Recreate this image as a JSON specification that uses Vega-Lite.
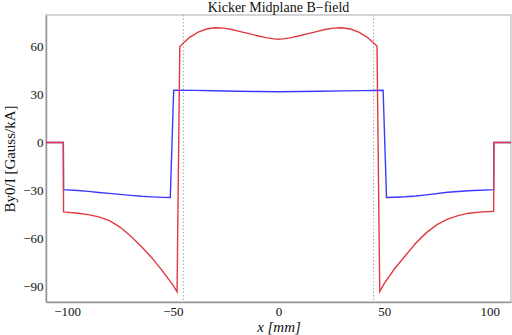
{
  "$schema": "https://vega.github.io/schema/vega-lite/v6.json",
  "width": 465,
  "height": 287,
  "autosize": {"type": "none"},
  "padding": {"left": 46, "top": 15, "right": 1, "bottom": 33},
  "background": "white",
  "title": {"text": "Kicker Midplane B−field", "font": "Liberation Serif", "fontSize": 14, "fontWeight": "normal", "color": "#111", "offset": 0, "anchor": "middle"},
  "config": {
    "view": {"stroke": "#c8c8c8", "strokeWidth": 1.5},
    "axis": {"labelFont": "Liberation Serif", "labelFontSize": 13, "labelColor": "#111", "titleFont": "Liberation Serif", "titleFontSize": 15, "titleFontWeight": "normal", "titleColor": "#111", "grid": false, "domainColor": "#999", "domainWidth": 1.5, "ticks": false, "labelPadding": 3}
  },
  "datasets": {
    "curves": [
      {"s": "red", "i": 1, "x": -110, "y": 0},
      {"s": "red", "i": 2, "x": -101.8, "y": 0},
      {"s": "red", "i": 3, "x": -101.7, "y": -43.5},
      {"s": "red", "i": 4, "x": -95, "y": -44.3},
      {"s": "red", "i": 5, "x": -90, "y": -45.2},
      {"s": "red", "i": 6, "x": -85, "y": -46.6},
      {"s": "red", "i": 7, "x": -80, "y": -49.0},
      {"s": "red", "i": 8, "x": -75, "y": -53.0},
      {"s": "red", "i": 9, "x": -70, "y": -58.6},
      {"s": "red", "i": 10, "x": -65, "y": -65.0},
      {"s": "red", "i": 11, "x": -60, "y": -72.2},
      {"s": "red", "i": 12, "x": -55, "y": -80.3},
      {"s": "red", "i": 13, "x": -50, "y": -89.2},
      {"s": "red", "i": 14, "x": -48, "y": -93.6},
      {"s": "red", "i": 15, "x": -46.7, "y": 60},
      {"s": "red", "i": 16, "x": -45, "y": 62.5},
      {"s": "red", "i": 17, "x": -42, "y": 66},
      {"s": "red", "i": 18, "x": -38, "y": 69.2},
      {"s": "red", "i": 19, "x": -34, "y": 71.2},
      {"s": "red", "i": 20, "x": -30, "y": 72},
      {"s": "red", "i": 21, "x": -26, "y": 71.8},
      {"s": "red", "i": 22, "x": -22, "y": 70.9},
      {"s": "red", "i": 23, "x": -18, "y": 69.6},
      {"s": "red", "i": 24, "x": -14, "y": 68.3},
      {"s": "red", "i": 25, "x": -10, "y": 67},
      {"s": "red", "i": 26, "x": -6, "y": 65.8},
      {"s": "red", "i": 27, "x": -2, "y": 65},
      {"s": "red", "i": 28, "x": 0, "y": 64.8},
      {"s": "red", "i": 29, "x": 2, "y": 65},
      {"s": "red", "i": 30, "x": 6, "y": 65.8},
      {"s": "red", "i": 31, "x": 10, "y": 67},
      {"s": "red", "i": 32, "x": 14, "y": 68.3},
      {"s": "red", "i": 33, "x": 18, "y": 69.6},
      {"s": "red", "i": 34, "x": 22, "y": 70.9},
      {"s": "red", "i": 35, "x": 26, "y": 71.8},
      {"s": "red", "i": 36, "x": 30, "y": 72},
      {"s": "red", "i": 37, "x": 34, "y": 71.2},
      {"s": "red", "i": 38, "x": 38, "y": 69.2},
      {"s": "red", "i": 39, "x": 42, "y": 66},
      {"s": "red", "i": 40, "x": 45, "y": 62.5},
      {"s": "red", "i": 41, "x": 46.6, "y": 60.5},
      {"s": "red", "i": 42, "x": 47.9, "y": -93.4},
      {"s": "red", "i": 43, "x": 50, "y": -88.5},
      {"s": "red", "i": 44, "x": 55, "y": -79},
      {"s": "red", "i": 45, "x": 60, "y": -71},
      {"s": "red", "i": 46, "x": 65, "y": -63},
      {"s": "red", "i": 47, "x": 70, "y": -56.5},
      {"s": "red", "i": 48, "x": 75, "y": -51.5},
      {"s": "red", "i": 49, "x": 80, "y": -48},
      {"s": "red", "i": 50, "x": 85, "y": -45.8},
      {"s": "red", "i": 51, "x": 90, "y": -44.3},
      {"s": "red", "i": 52, "x": 95, "y": -43.6},
      {"s": "red", "i": 53, "x": 101.8, "y": -43.1},
      {"s": "red", "i": 54, "x": 101.9, "y": 0},
      {"s": "red", "i": 55, "x": 110, "y": 0},
      {"s": "blue", "i": 1, "x": -110, "y": 0},
      {"s": "blue", "i": 2, "x": -101.8, "y": 0},
      {"s": "blue", "i": 3, "x": -101.7, "y": -29.5},
      {"s": "blue", "i": 4, "x": -95, "y": -30.1},
      {"s": "blue", "i": 5, "x": -90, "y": -30.6},
      {"s": "blue", "i": 6, "x": -85, "y": -31.3},
      {"s": "blue", "i": 7, "x": -80, "y": -31.9},
      {"s": "blue", "i": 8, "x": -75, "y": -32.5},
      {"s": "blue", "i": 9, "x": -70, "y": -33.1},
      {"s": "blue", "i": 10, "x": -65, "y": -33.7},
      {"s": "blue", "i": 11, "x": -60, "y": -34.1},
      {"s": "blue", "i": 12, "x": -55, "y": -34.4},
      {"s": "blue", "i": 13, "x": -51.2, "y": -34.5},
      {"s": "blue", "i": 14, "x": -49.6, "y": 32.8},
      {"s": "blue", "i": 15, "x": -40, "y": 32.7},
      {"s": "blue", "i": 16, "x": -30, "y": 32.5},
      {"s": "blue", "i": 17, "x": -20, "y": 32.2},
      {"s": "blue", "i": 18, "x": -10, "y": 32},
      {"s": "blue", "i": 19, "x": 0, "y": 31.9},
      {"s": "blue", "i": 20, "x": 10, "y": 32},
      {"s": "blue", "i": 21, "x": 20, "y": 32.2},
      {"s": "blue", "i": 22, "x": 30, "y": 32.4},
      {"s": "blue", "i": 23, "x": 40, "y": 32.6},
      {"s": "blue", "i": 24, "x": 49.5, "y": 32.8},
      {"s": "blue", "i": 25, "x": 51.1, "y": -34.5},
      {"s": "blue", "i": 26, "x": 55, "y": -34.3},
      {"s": "blue", "i": 27, "x": 60, "y": -34},
      {"s": "blue", "i": 28, "x": 65, "y": -33.5},
      {"s": "blue", "i": 29, "x": 70, "y": -32.8},
      {"s": "blue", "i": 30, "x": 80, "y": -31.2},
      {"s": "blue", "i": 31, "x": 90, "y": -30.2},
      {"s": "blue", "i": 32, "x": 101.8, "y": -29.5},
      {"s": "blue", "i": 33, "x": 101.9, "y": 0},
      {"s": "blue", "i": 34, "x": 110, "y": 0}
    ],
    "guides": [{"x": -45}, {"x": 45}]
  },
  "encoding": {
    "x": {"field": "x", "type": "quantitative", "scale": {"domain": [-110, 110], "nice": false, "zero": false}, "axis": {"values": [-100, -50, 0, 50, 100], "title": "x  [mm]", "titleFontStyle": "italic", "titlePadding": 1}},
    "y": {"field": "y", "type": "quantitative", "scale": {"domain": [-100, 80], "nice": false, "zero": false}, "axis": {"values": [-90, -60, -30, 0, 30, 60], "title": "By0/I   [Gauss/kA]", "titlePadding": 5}}
  },
  "layer": [
    {
      "data": {"name": "guides"},
      "mark": {"type": "rule", "color": "#aaaaaa", "strokeDash": [1.5, 2], "strokeWidth": 1},
      "encoding": {"x": {"field": "x", "type": "quantitative"}, "y": {"value": 0}, "y2": {"value": 287}}
    },
    {
      "data": {"name": "curves"},
      "transform": [{"filter": "datum.s === 'blue'"}],
      "mark": {"type": "line", "color": "#3a3aff", "strokeWidth": 1.4},
      "encoding": {"order": {"field": "i", "type": "quantitative"}}
    },
    {
      "data": {"name": "curves"},
      "transform": [{"filter": "datum.s === 'red'"}],
      "mark": {"type": "line", "color": "#e03a40", "strokeWidth": 1.4},
      "encoding": {"order": {"field": "i", "type": "quantitative"}}
    }
  ]
}
